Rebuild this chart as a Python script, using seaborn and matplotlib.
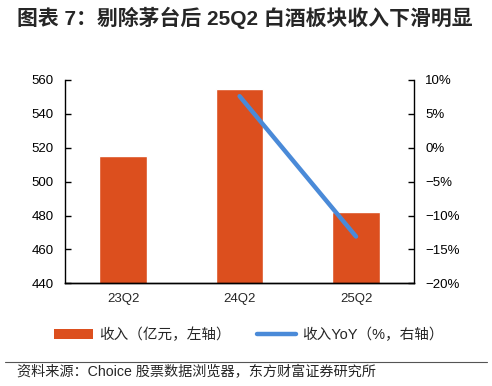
import matplotlib
matplotlib.use('Agg')
import pandas as pd
import seaborn as sns
import matplotlib.pyplot as plt
from matplotlib.lines import Line2D
from matplotlib.patches import Patch
from matplotlib.ticker import PercentFormatter

# 数据
quarters = ['23Q2', '24Q2', '25Q2']
revenue = [515.3, 554.6, 481.8]          # 收入（亿元）
yoy_quarters = ['24Q2', '25Q2']
yoy = [7.6, -13.1]                        # 收入YoY（%）

bar_color = '#DC4F1E'
line_color = '#4A8AD8'

sns.set_theme(style='white')
plt.rcParams['font.family'] = ['Liberation Sans', 'Noto Sans CJK SC', 'DejaVu Sans']
plt.rcParams['axes.unicode_minus'] = True

fig = plt.figure(figsize=(4.92, 3.86), dpi=100)
ax = fig.add_axes([0.132, 0.266, 0.710, 0.527])

df = pd.DataFrame({'季度': quarters, '收入': revenue})
sns.barplot(x='季度', y='收入', data=df, color=bar_color, width=0.41,
            saturation=1, ax=ax)
ax.set_ylim(440, 560)
ax.set_yticks(range(440, 561, 20))
ax.set_xlabel('')
ax.set_ylabel('')

ax2 = ax.twinx()
yoy_x = [quarters.index(q) for q in yoy_quarters]
sns.lineplot(x=yoy_x, y=yoy, color=line_color, linewidth=3.2,
             solid_capstyle='round', ax=ax2)
ax2.set_ylim(-20, 10)
ax2.set_yticks(range(-20, 11, 5))
ax2.yaxis.set_major_formatter(PercentFormatter(decimals=0))
ax.set_xlim(-0.5, 2.5)

for a in (ax, ax2):
    for s in ['left', 'right', 'bottom']:
        a.spines[s].set_color('black')
        a.spines[s].set_linewidth(1.0)
    a.spines['top'].set_visible(False)
    a.tick_params(axis='y', direction='in', length=4, width=1, colors='black',
                  labelsize=9.5, pad=8)
ax.spines['right'].set_visible(False)
ax2.spines['left'].set_visible(False)
ax.tick_params(axis='x', length=0, labelsize=9.5, pad=7)

# 标题
fig.text(0.035, 0.955, '图表 7：剔除茅台后 25Q2 白酒板块收入下滑明显',
         fontsize=15, fontweight='bold', va='center', ha='left',
         family=['Liberation Sans', 'Noto Sans CJK SC'])

# 图例
handles = [Patch(facecolor=bar_color, edgecolor='none'),
           Line2D([0], [0], color=line_color, linewidth=3.2)]
labels = ['收入（亿元，左轴）', '收入YoY（%，右轴）']
fig.legend(handles, labels, loc='center', bbox_to_anchor=(0.505, 0.132),
           ncol=2, frameon=False, fontsize=10.5, handlelength=2.7,
           handleheight=0.7, columnspacing=1.8, handletextpad=0.4)

# 分隔线与来源
fig.add_artist(Line2D([0.01, 0.99], [0.062, 0.062], color='#555555',
                      linewidth=0.8, transform=fig.transFigure))
fig.text(0.035, 0.035, '资料来源：Choice 股票数据浏览器，东方财富证券研究所',
         fontsize=10.2, va='center', ha='left')

fig.savefig('out.png', dpi=100)
